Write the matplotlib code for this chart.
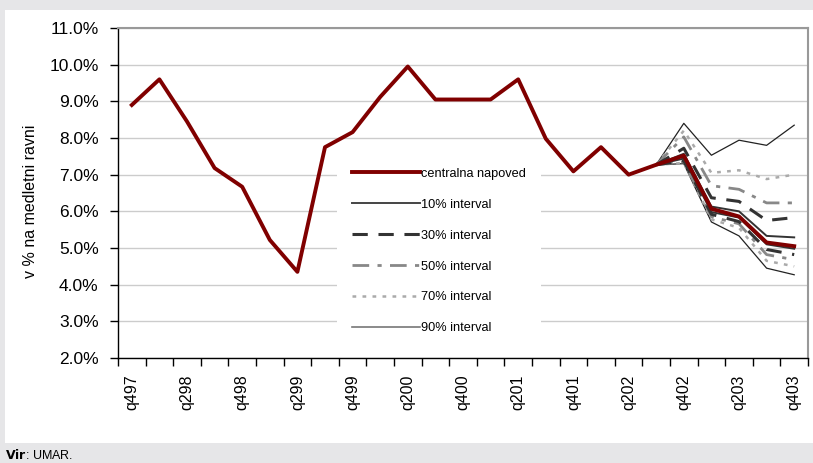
import matplotlib
matplotlib.use("Agg")
import matplotlib.pyplot as plt
from matplotlib.patches import Rectangle
from matplotlib.ticker import FixedLocator, FuncFormatter
from matplotlib.lines import Line2D

plt.rcParams['font.family'] = ['Liberation Sans', 'DejaVu Sans']

quarters = ["q497", "q198", "q298", "q398", "q498", "q199", "q299", "q399", "q499",
            "q100", "q200", "q300", "q400", "q101", "q201", "q301", "q401", "q102",
            "q202", "q302", "q402", "q103", "q203", "q303", "q403"]
central = [8.9, 9.6, 8.45, 7.18, 6.67, 5.22, 4.35, 7.75, 8.16, 9.12, 9.95, 9.05, 9.05,
           9.05, 9.6, 7.98, 7.09, 7.75, 7.0, 7.27, 7.52, 6.07, 5.86, 5.15, 5.05]

# fan bands start at q302 (index 19)
fan_start = 19
band10_up = [7.27, 7.57, 6.13, 6.0, 5.33, 5.29]
band10_lo = [7.27, 7.44, 5.98, 5.83, 5.1, 4.98]
band30_up = [7.27, 7.72, 6.37, 6.27, 5.75, 5.83]
band30_lo = [7.27, 7.38, 5.92, 5.72, 4.96, 4.82]
band50_up = [7.27, 8.03, 6.7, 6.6, 6.23, 6.23]
band50_lo = [7.27, 7.35, 5.85, 5.66, 4.82, 4.68]
band70_up = [7.27, 8.2, 7.05, 7.12, 6.88, 7.0]
band70_lo = [7.27, 7.32, 5.78, 5.55, 4.65, 4.5]
band90_up = [7.27, 8.4, 7.53, 7.94, 7.8, 8.35]
band90_lo = [7.27, 7.3, 5.71, 5.33, 4.45, 4.27]

labels = ["centralna napoved", "10% interval", "30% interval", "50% interval",
          "70% interval", "90% interval"]

W, H = 813, 463
fig = plt.figure(figsize=(W / 100, H / 100), dpi=100)
fig.patch.set_facecolor('#e6e6e8')
bg = Rectangle((5 / W, 1 - 443 / H), 1 - 5 / W, (443 - 10) / H,
               transform=fig.transFigure, facecolor='white', edgecolor='none', zorder=-10)
fig.patches.append(bg)

AX_L, AX_R, AX_T, AX_B = 118, 808, 28, 358
ax = fig.add_axes([AX_L / W, 1 - AX_B / H, (AX_R - AX_L) / W, (AX_B - AX_T) / H])
ax.set_facecolor('white')

def ax_frac(px, py):
    return (px - AX_L) / (AX_R - AX_L), 1 - (py - AX_T) / (AX_B - AX_T)

x = list(range(len(quarters)))
xf = x[fan_start:]

ax.plot(xf, band90_up, color='#222222', lw=0.9, zorder=3)
ax.plot(xf, band90_lo, color='#222222', lw=0.9, zorder=3)
ax.plot(xf, band70_up, color='#aaaaaa', lw=1.8, ls=(0, (1.5, 2.5)), zorder=3)
ax.plot(xf, band70_lo, color='#aaaaaa', lw=1.8, ls=(0, (1.5, 2.5)), zorder=3)
ax.plot(xf, band50_up, color='#888888', lw=2.0, ls=(0, (6, 3, 1.5, 3)), zorder=3)
ax.plot(xf, band50_lo, color='#888888', lw=2.0, ls=(0, (6, 3, 1.5, 3)), zorder=3)
ax.plot(xf, band30_up, color='#333333', lw=2.2, ls=(0, (5, 3.5)), zorder=4)
ax.plot(xf, band30_lo, color='#333333', lw=2.2, ls=(0, (5, 3.5)), zorder=4)
ax.plot(xf, band10_up, color='#333333', lw=1.4, zorder=4)
ax.plot(xf, band10_lo, color='#333333', lw=1.4, zorder=4)
ax.plot(x, central, color='#800000', lw=2.8, zorder=5)

ax.set_xlim(-0.5, len(quarters) - 0.5)
ax.set_ylim(2.0, 11.0)
ax.yaxis.set_major_locator(FixedLocator([2 + i for i in range(10)]))
ax.yaxis.set_major_formatter(FuncFormatter(lambda v, p: f"{v:.1f}%"))
ax.grid(axis='y', color='#cccccc', lw=1.0, zorder=0)
ax.set_axisbelow(True)

major = x[::2]
ax.xaxis.set_major_locator(FixedLocator(major))
ax.set_xticklabels([quarters[i] for i in major], rotation=90, fontsize=11.5)
ax.xaxis.set_minor_locator(FixedLocator([i - 0.5 for i in range(len(quarters) + 1)]))
ax.tick_params(axis='x', which='major', length=0, pad=12)
ax.tick_params(axis='x', which='minor', length=6, width=1, direction='out', color='black')
ax.tick_params(axis='y', length=6, width=1, direction='out', labelsize=12.5, pad=8)

for s in ['top', 'right']:
    ax.spines[s].set_color('#999999')
    ax.spines[s].set_linewidth(1.5)
for s in ['left', 'bottom']:
    ax.spines[s].set_color('black')
    ax.spines[s].set_linewidth(1.0)

ax.set_ylabel("v % na medletni ravni", fontsize=11.5)
ax.yaxis.set_label_coords(*ax_frac(38, 201))

# white area behind the legend (hides gridlines)
x0, y0 = ax_frac(337, 340)
x1, y1 = ax_frac(541, 154)
ax.add_patch(Rectangle((x0, y0), x1 - x0, y1 - y0, transform=ax.transAxes,
                       facecolor='white', edgecolor='none', zorder=1.5))

handles = [
    Line2D([], [], color='#800000', lw=2.8),
    Line2D([], [], color='#444444', lw=1.4),
    Line2D([], [], color='#333333', lw=2.2, ls=(0, (5, 3.5))),
    Line2D([], [], color='#888888', lw=2.0, ls=(0, (6, 3, 1.5, 3))),
    Line2D([], [], color='#aaaaaa', lw=1.8, ls=(0, (1.5, 2.5))),
    Line2D([], [], color='#777777', lw=1.2),
]
leg = ax.legend(handles, labels, loc='upper left',
                bbox_to_anchor=ax_frac(348, 164),
                fontsize=9.2, frameon=False, handlelength=5.3,
                handletextpad=0.15, labelspacing=1.48, borderpad=0.3,
                borderaxespad=0)
leg.set_zorder(2)

fig.text(5 / W, 1 - 455 / H, r"$\bf{Vir}$: UMAR.", fontsize=9, va='center', ha='left')

fig.savefig("out.png", dpi=100, facecolor=fig.get_facecolor())
